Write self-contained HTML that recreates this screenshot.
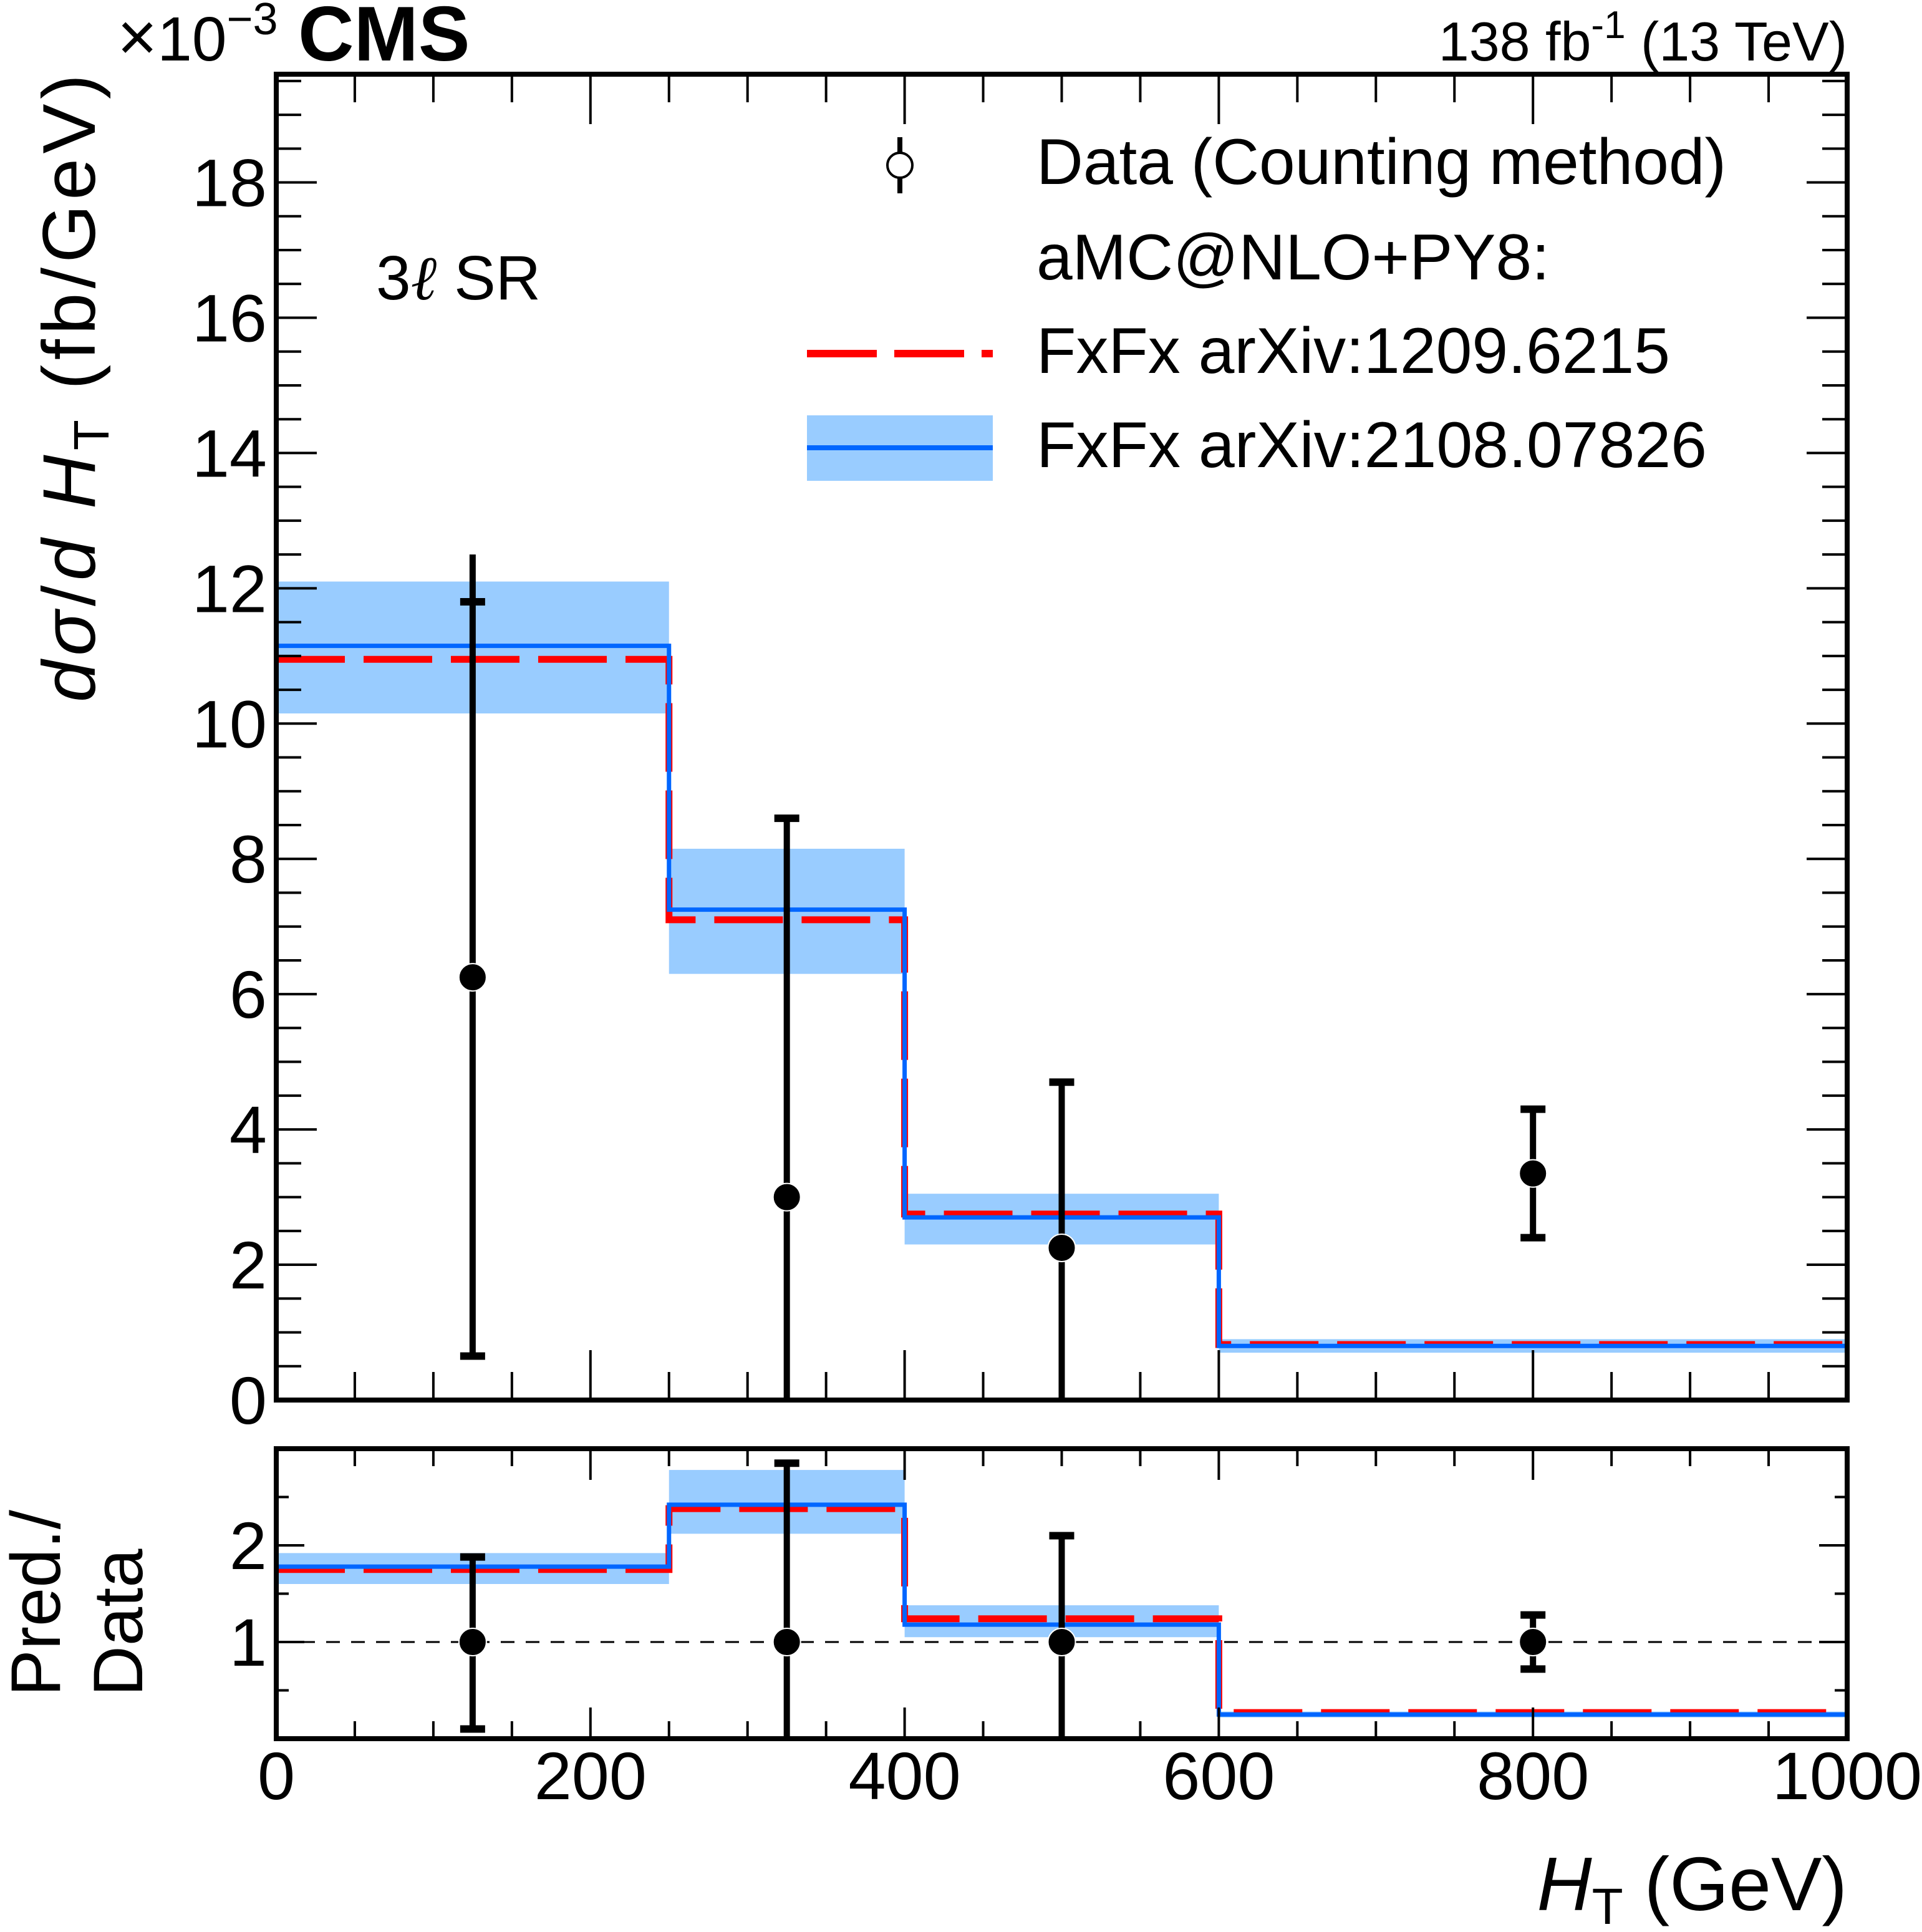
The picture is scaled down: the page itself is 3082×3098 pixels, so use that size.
<!DOCTYPE html>
<html><head><meta charset="utf-8"><style>
html,body{margin:0;padding:0;background:#fff}
svg{display:block}
text{font-family:"Liberation Sans",sans-serif;fill:#000}
</style></head><body>
<svg id="chart" width="3082" height="3098" viewBox="0 0 3082 3098" xmlns="http://www.w3.org/2000/svg">
<g id="g"></g>
</svg>
<script>
const binEdges=[0,250,400,600,1000];
const dataX=[125,325,500,800];
const dataY=[6.25,3.0,2.25,3.35];
const dataLo=[0.65,0,0,2.4];
const dataHi=[11.8,8.6,4.7,4.3];
const predBlue=[11.15,7.25,2.7,0.8];
const bandBlueLo=[10.15,6.3,2.3,0.7];
const bandBlueHi=[12.1,8.15,3.05,0.9];
const predRed=[10.95,7.1,2.75,0.82];
const ratioBlue=[1.78,2.42,1.18,0.25];
const ratioRed=[1.75,2.38,1.24,0.27];
const ratioBandLo=[1.6,2.12,1.05,0.22];
const ratioBandHi=[1.92,2.78,1.38,0.28];
const ratioData=[1,1,1,1];
const ratioLo=[0.1,0,0,0.72];
const ratioHi=[1.88,2.85,2.1,1.28];
const xTicks=[0,200,400,600,800,1000];
const yTicks=[0,2,4,6,8,10,12,14,16,18];
const rTicks=[1,2];

const NS="http://www.w3.org/2000/svg";
const G=document.getElementById('g');
const L=443,R=2962,T=119,B=2245,RT=2323,RB=2788;
const X=v=>L+(v-0)/1000*(R-L);
const Y=v=>B-v/19.6*(B-T);
const YR=v=>RB-v/3*(RB-RT);
function el(tag,a,parent){const e=document.createElementNS(NS,tag);for(const k in a)e.setAttribute(k,a[k]);(parent||G).appendChild(e);return e;}
function line(x1,y1,x2,y2,w,c,extra){const a={x1,y1,x2,y2,stroke:c||'#000','stroke-width':w};Object.assign(a,extra||{});return el('line',a);}

function panel(Yf,top,bot,bLo,bHi,blue,red,dY,dLo,dHi,pname){
  for(let i=0;i<4;i++){
    const r=el('rect',{x:X(binEdges[i]),y:Yf(bHi[i]),width:X(binEdges[i+1])-X(binEdges[i]),height:Yf(bLo[i])-Yf(bHi[i]),fill:'#99ccff'});
    
    
  }
  function step(vals){let d='';for(let i=0;i<4;i++){d+=(i?'L':'M')+X(binEdges[i])+','+Yf(vals[i])+'L'+X(binEdges[i+1])+','+Yf(vals[i]);}return d;}
  const pr=el('path',{d:step(red),fill:'none',stroke:'#ff0000','stroke-width':11,'stroke-dasharray':'110 30'});
  
  
  const pb=el('path',{d:step(blue),fill:'none',stroke:'#0066ff','stroke-width':7});
  
  
  for(let i=0;i<4;i++){
    const x=X(dataX[i]);
    const lo=Math.max(dLo[i],0), yl=Yf(lo), yh=Yf(dHi[i]);
    const eb=line(x,Math.min(yl,bot-4),x,yh,10);
    
    
    line(x-20,yh,x+20,yh,12);
    if(dLo[i]>0)line(x-20,yl,x+20,yl,12);
    const c=el('circle',{cx:x,cy:Yf(dY[i]),r:22,fill:'#000',stroke:'#fff','stroke-width':2});
    
    
  }
}
panel(Y,T,B,bandBlueLo,bandBlueHi,predBlue,predRed,dataY,dataLo,dataHi,'main');
line(X(dataX[0]),Y(dataHi[0]),X(dataX[0]),Y(12.5),10);
const ref=line(L,YR(1),R,YR(1),3,'#000',{'stroke-dasharray':'22 18'});


panel(YR,RT,RB,ratioBandLo,ratioBandHi,ratioBlue,ratioRed,ratioData,ratioLo,ratioHi,'ratio');

function frame(top,bot,name){const f=el('rect',{x:L,y:top,width:R-L,height:bot-top,fill:'none',stroke:'#000','stroke-width':8});}
frame(T,B,'main-frame');frame(RT,RB,'ratio-frame');
for(let v=0;v<=1000;v+=50){const maj=v%200===0;const x=X(v);
  line(x,B,x,B-(maj?80:45),4);line(x,T,x,T+(maj?80:45),4);
  line(x,RB,x,RB-(maj?50:28),4);line(x,RT,x,RT+(maj?50:28),4);}
for(let v=0;v<=19.5;v+=0.5){const maj=Math.abs(v%2)<1e-6;const y=Y(v);
  line(L,y,L+(maj?65:40),y,4);line(R,y,R-(maj?65:40),y,4);}
for(let v=0.5;v<3;v+=0.5){const maj=Math.abs(v%1)<1e-6;const y=YR(v);
  line(L,y,L+(maj?45:20),y,4);line(R,y,R-(maj?45:20),y,4);}
function txt(s,a,name){const t=el('text',a);t.textContent=s;return t;}
yTicks.forEach(v=>txt(String(v),{x:428,y:Y(v)+38,'font-size':108,'text-anchor':'end'},'y-tick-label-'+v));
rTicks.forEach(v=>txt(String(v),{x:428,y:YR(v)+38,'font-size':108,'text-anchor':'end'},'ratio-tick-label-'+v));
xTicks.forEach(v=>txt(String(v),{x:X(v),y:2885,'font-size':108,'text-anchor':'middle'},'x-tick-label-'+v));
</script>
<div style="position:absolute;left:0;top:0;width:3082px;height:3098px;pointer-events:none">
<svg width="3082" height="3098" viewBox="0 0 3082 3098" xmlns="http://www.w3.org/2000/svg" style="position:absolute;left:0;top:0">
<text x="188" y="97" font-size="100" font-weight="normal"><tspan font-size="110">×</tspan>10<tspan dy="-42" font-size="72">−3</tspan></text>
<text x="478" y="97" font-size="124" font-weight="bold">CMS</text>
<text x="2962" y="97" font-size="88" text-anchor="end">138 fb<tspan dy="-36" font-size="62">-1</tspan><tspan dy="36"> (13 TeV)</tspan></text>
<text x="603" y="480" font-size="100">3<tspan font-family="Liberation Serif" font-style="italic">ℓ</tspan>  SR</text>
<text transform="translate(152,119) rotate(-90)" font-size="120" text-anchor="end" textLength="1007" lengthAdjust="spacing"><tspan font-style="italic">dσ</tspan>/<tspan font-style="italic">d H</tspan><tspan font-size="80" dy="22">T</tspan><tspan dy="-22">  (fb/GeV)</tspan></text>
<text transform="translate(96,2720) rotate(-90)" font-size="112" text-anchor="start">Pred./</text>
<text transform="translate(228,2720) rotate(-90)" font-size="112" text-anchor="start">Data</text>
<text x="2962" y="3063" font-size="122" text-anchor="end"><tspan font-style="italic">H</tspan><tspan font-size="82" dy="22">T</tspan><tspan dy="-22"> (GeV)</tspan></text>
<g>
<line x1="1443" y1="220" x2="1443" y2="310" stroke="#000" stroke-width="8"/>
<circle cx="1443" cy="265" r="20" fill="#fff" stroke="#000" stroke-width="4"/>
<text x="1662" y="295" font-size="104" textLength="1106" lengthAdjust="spacingAndGlyphs">Data (Counting method)</text>
<text x="1662" y="448" font-size="104" textLength="823" lengthAdjust="spacingAndGlyphs">aMC@NLO+PY8:</text>
<line x1="1294" y1="567" x2="1592" y2="567" stroke="#ff0000" stroke-width="12" stroke-dasharray="112 28"/>
<text x="1662" y="598" font-size="104" textLength="1016" lengthAdjust="spacingAndGlyphs">FxFx arXiv:1209.6215</text>
<rect x="1294" y="666" width="298" height="105" fill="#99ccff"/>
<line x1="1294" y1="718" x2="1592" y2="718" stroke="#0066ff" stroke-width="8"/>
<text x="1662" y="749" font-size="104" textLength="1075" lengthAdjust="spacingAndGlyphs">FxFx arXiv:2108.07826</text>
</g>
</svg></div>
</body></html>
